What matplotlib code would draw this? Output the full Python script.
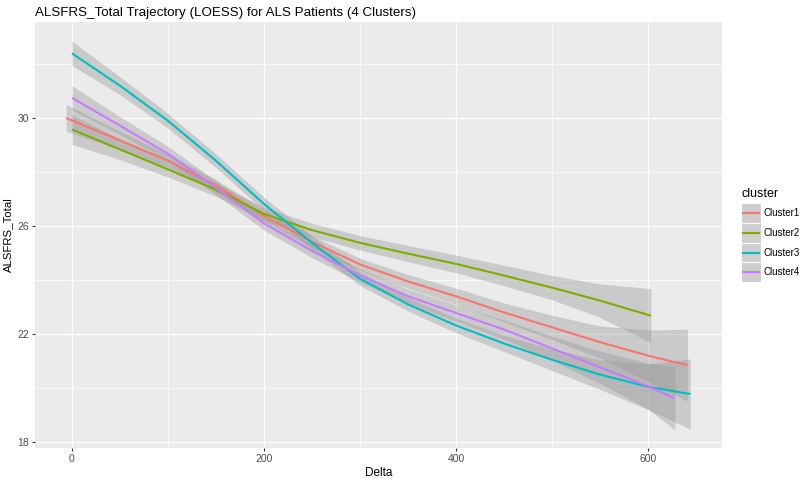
import numpy as np
import matplotlib
matplotlib.use('Agg')
import matplotlib.pyplot as plt
import matplotlib.patches as mpatches
from matplotlib.lines import Line2D

plt.rcParams['font.family'] = ['Liberation Sans', 'DejaVu Sans']

# LOESS fits (Delta, fitted ALSFRS_Total, half width of band)
clusters = ['Cluster1', 'Cluster2', 'Cluster3', 'Cluster4']
colors = ['#F8766D', '#7CAE00', '#00BFC4', '#C77CFF']

delta1 = [-6, 50, 100, 150, 200, 250, 300, 350, 400, 450, 500, 550, 600, 641]
fit1 = [30.0, 29.18, 28.42, 27.5, 26.38, 25.42, 24.58, 23.95, 23.4, 22.8, 22.25, 21.7, 21.2, 20.85]
se1 = [0.5, 0.33, 0.25, 0.22, 0.22, 0.22, 0.23, 0.25, 0.3, 0.35, 0.45, 0.6, 0.95, 1.33]

delta2 = [0, 50, 100, 150, 200, 250, 300, 350, 400, 450, 500, 550, 603]
fit2 = [29.58, 28.84, 28.1, 27.35, 26.45, 25.85, 25.38, 24.98, 24.6, 24.17, 23.72, 23.24, 22.68]
se2 = [0.55, 0.38, 0.28, 0.25, 0.25, 0.25, 0.27, 0.3, 0.33, 0.38, 0.45, 0.62, 1.0]

delta3 = [0, 50, 100, 150, 200, 250, 300, 350, 400, 450, 500, 550, 600, 644]
fit3 = [32.4, 31.2, 29.9, 28.42, 26.82, 25.38, 24.05, 23.1, 22.32, 21.65, 21.05, 20.5, 20.05, 19.78]
se3 = [0.45, 0.33, 0.27, 0.25, 0.25, 0.25, 0.25, 0.25, 0.27, 0.3, 0.4, 0.55, 0.85, 1.3]

delta4 = [0, 50, 100, 150, 200, 250, 300, 350, 400, 450, 500, 550, 600, 628]
fit4 = [30.75, 29.72, 28.68, 27.42, 26.1, 25.08, 24.17, 23.4, 22.78, 22.17, 21.47, 20.77, 20.07, 19.62]
se4 = [0.45, 0.33, 0.27, 0.25, 0.25, 0.25, 0.25, 0.27, 0.3, 0.35, 0.45, 0.6, 0.85, 1.17]

series = [(delta1, fit1, se1), (delta2, fit2, se2), (delta3, fit3, se3), (delta4, fit4, se4)]

W, H = 800, 479
fig = plt.figure(figsize=(8, 4.79), dpi=100)
ax = fig.add_axes([35 / W, 1 - 448 / H, 687 / W, 426 / H])
ax.set_facecolor('#EBEBEB')

for (d, f, s), c in zip(series, colors):
    d = np.array(d)
    f = np.array(f)
    s = np.array(s)
    ax.fill_between(d, f - s, f + s, color='#999999', alpha=0.4, linewidth=0)
    ax.plot(d, f, color=c, lw=1.5, solid_capstyle='butt', solid_joinstyle='round')

ax.set_xlim(-38.5, 677)
ax.set_ylim(17.78, 33.56)
ax.set_xticks([0, 200, 400, 600])
ax.set_xticks([100, 300, 500], minor=True)
ax.set_yticks([18, 22, 26, 30])
ax.set_yticks([20, 24, 28, 32], minor=True)
ax.grid(which='major', color='white', lw=1.0)
ax.grid(which='minor', color='white', lw=0.5)
ax.set_axisbelow(True)
for sp in ax.spines.values():
    sp.set_visible(False)
ax.tick_params(which='major', length=2.5, width=0.8, color='#333333',
               labelcolor='#4D4D4D', labelsize=7.5, pad=2)
ax.tick_params(which='minor', length=0)

ax.set_xlabel('Delta', fontsize=8.5, labelpad=2)
ax.set_ylabel('ALSFRS_Total', fontsize=8.2, labelpad=3)
ax.set_title('ALSFRS_Total Trajectory (LOESS) for ALS Patients (4 Clusters)',
             fontsize=9.6, loc='left', pad=4)

# legend drawn by hand, ggplot style keys
def fx(px):
    return px / W

def fy(py):
    return 1 - py / H

fig.text(fx(741), fy(194), 'cluster', fontsize=9, va='center', ha='left')
key_top = 203
key_size = 19.8
for i, (lab, c) in enumerate(zip(clusters, colors)):
    top = key_top + i * key_size
    fig.add_artist(mpatches.Rectangle((fx(741), fy(top + key_size)), fx(key_size), key_size / H,
                                      facecolor='#CECECE', edgecolor='white', linewidth=0.8,
                                      transform=fig.transFigure))
    yc = fy(top + key_size / 2)
    fig.add_artist(Line2D([fx(743), fx(759)], [yc, yc], color=c, lw=1.5,
                          transform=fig.transFigure))
    fig.text(fx(764), yc, lab, fontsize=7, va='center', ha='left')

fig.savefig('out.png', dpi=100)
